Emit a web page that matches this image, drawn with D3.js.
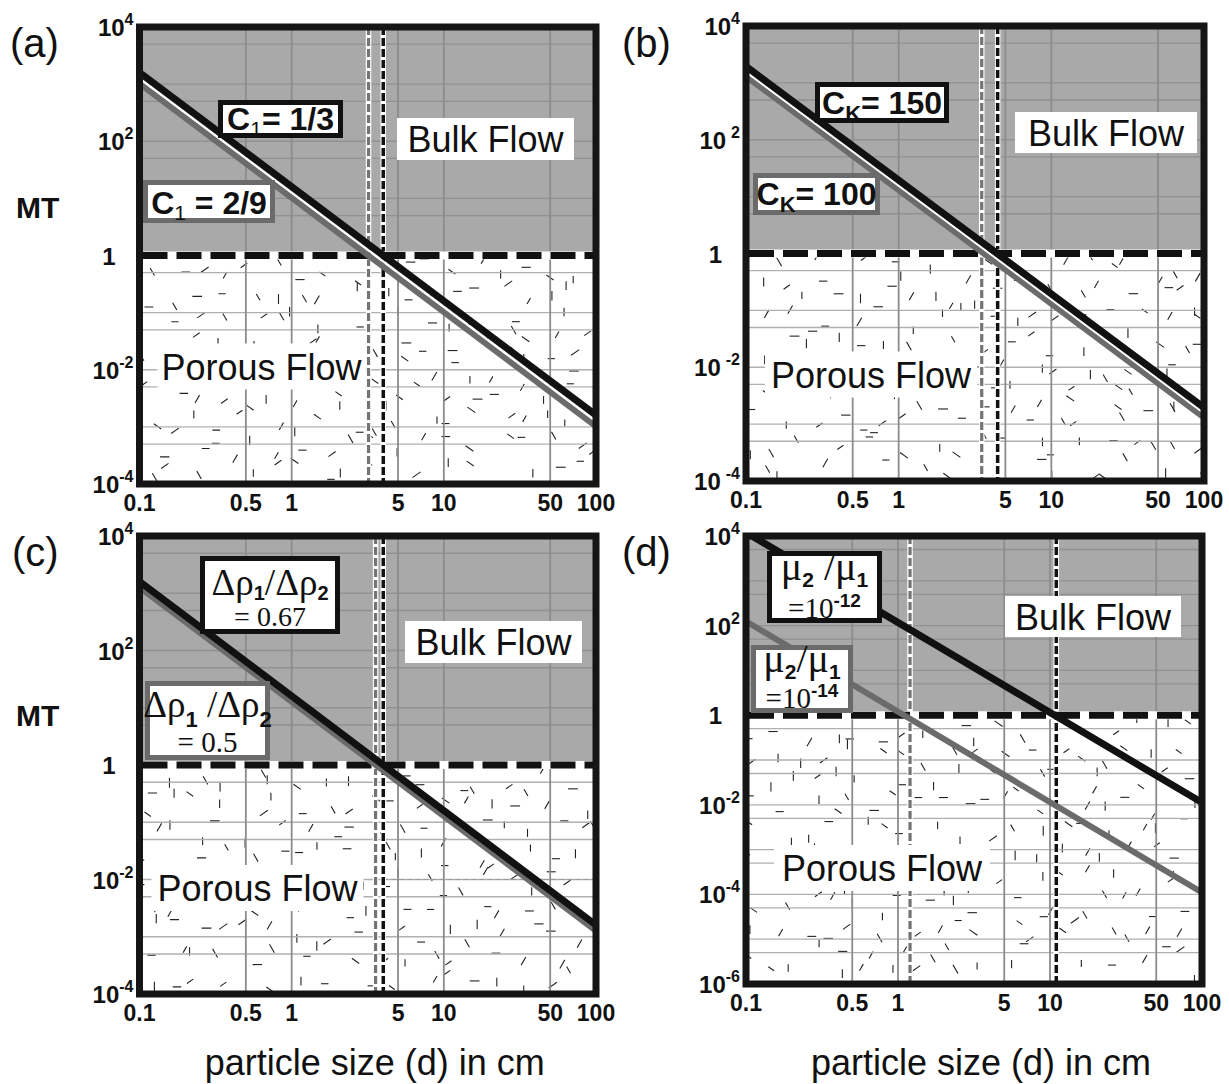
<!DOCTYPE html>
<html>
<head>
<meta charset="utf-8">
<script src="https://cdn.jsdelivr.net/npm/d3@7"></script>
<style>
  body { margin: 0; background: #fff; }
  svg { display: block; }
</style>
</head>
<body>
<div id="chart"></div>
<script>

// axis values
var xTicks = [0.1, 0.5, 1, 5, 10, 50, 100]
var xTickLabels = ["0.1", "0.5", "1", "5", "10", "50", "100"]
var xGrid = [0.5, 1, 5, 10, 50]
var yTicksABC = [1e4, 1e2, 1, 1e-2, 1e-4]
var yTicksD = [1e4, 1e2, 1, 1e-2, 1e-4, 1e-6]

// MT lines as [d, MT] end points
var aBlack = [[0.1, 1600], [100, 0.0016]]
var aGray = [[0.1, 1020], [100, 0.00102]]
var aCross = [3.2, 4.0]

var bBlack = [[0.1, 1950], [100, 0.00195]]
var bGray = [[0.1, 1300], [100, 0.0013]]
var bCross = [3.5, 4.45]

var cBlack = [[0.1, 1600], [100, 0.0016]]
var cGray = [[0.1, 1270], [100, 0.00127]]
var cCross = [3.56, 4.0]

var dBlack = [[0.1, 12000], [100, 0.0112]]
var dGray = [[0.1, 125], [100, 0.00011]]
var dCross = [1.2, 11]

var sans = "'Liberation Sans', Arial, Helvetica, sans-serif"
var serif = "'Liberation Serif', 'Times New Roman', serif"

function mulberry32(a) {
	return function() {
		a |= 0; a = a + 0x6D2B79F5 | 0
		var t = Math.imul(a ^ a >>> 15, 1 | a)
		t = t + Math.imul(t ^ t >>> 7, 61 | t) ^ t
		return ((t ^ t >>> 14) >>> 0) / 4294967296
	}
}

var svg = d3.select("#chart")
	.append("svg")
	.attr("width", 1229)
	.attr("height", 1084)
	.attr("viewBox", "0 0 1229 1084")

class Regime {

	constructor(svg, cfg) {

		this.svg = svg

		this.cfg = cfg

	}

	create() {

		var self = this

		var c = this.cfg

		var x = d3.scaleLog().domain([0.1, 100]).range([c.left, c.right])

		var y = d3.scaleLog().domain([c.yMax, c.yMin]).range([c.top, c.bottom])

		var g = self.svg.append("g")

		var y1 = y(1)

		g.append("clipPath")
			.attr("id", `clip-${c.id}`)
			.append("rect")
			.attr("x", c.left)
			.attr("y", c.top)
			.attr("width", c.right - c.left)
			.attr("height", c.bottom - c.top)

		g.append("rect")
			.attr("x", c.left)
			.attr("y", c.top)
			.attr("width", c.right - c.left)
			.attr("height", c.bottom - c.top)
			.attr("fill", "#fff")

		g.append("rect")
			.attr("x", c.left)
			.attr("y", c.top)
			.attr("width", c.right - c.left)
			.attr("height", y1 - c.top)
			.attr("fill", "#a9a9a9")

		// the scattered dash texture of the porous part

		var rng = mulberry32(c.seed)
		var angles = [0, 90, 35, -35, 60, -60, 0, 90]
		var marks = []
		var cell = 25

		for (var yy = y1 + 3; yy < c.bottom - 4; yy += cell) {
			for (var xx = c.left; xx < c.right; xx += cell) {
				var cx = xx + rng() * cell
				var cy = yy + rng() * cell
				var a = angles[Math.floor(rng() * angles.length)] * Math.PI / 180
				var len = 7 + rng() * 3
				if (cy > c.bottom - 4) continue
				marks.push([cx - Math.cos(a) * len / 2, cy - Math.sin(a) * len / 2,
					cx + Math.cos(a) * len / 2, cy + Math.sin(a) * len / 2])
			}
		}

		g.append("g")
			.attr("clip-path", `url(#clip-${c.id})`)
			.attr("stroke", "#222")
			.attr("stroke-width", 1.1)
			.selectAll("line")
			.data(marks)
			.join("line")
			.attr("x1", d => d[0])
			.attr("y1", d => d[1])
			.attr("x2", d => d[2])
			.attr("y2", d => d[3])

		// grid

		var yGrid = []
		for (var e = Math.round(Math.log10(c.yMin)); e < Math.round(Math.log10(c.yMax)); e++) {
			yGrid.push(Math.pow(10, e))
			yGrid.push(5 * Math.pow(10, e))
		}

		g.append("g")
			.attr("stroke-width", 1.3)
			.selectAll("line")
			.data(yGrid)
			.join("line")
			.attr("stroke", d => d < 1 ? "#b0b0b0" : "#919191")
			.attr("x1", c.left)
			.attr("x2", c.right)
			.attr("y1", d => y(d))
			.attr("y2", d => y(d))

		g.append("g")
			.attr("stroke", "#8c8c8c")
			.attr("stroke-width", 1.8)
			.selectAll("line")
			.data(xGrid)
			.join("line")
			.attr("x1", d => x(d))
			.attr("x2", d => x(d))
			.attr("y1", c.top)
			.attr("y2", c.bottom)

		if (c.thinDash) {
			g.append("line")
				.attr("x1", x(c.thinDash[0]))
				.attr("x2", c.right)
				.attr("y1", y(c.thinDash[1]))
				.attr("y2", y(c.thinDash[1]))
				.attr("stroke", "#999")
				.attr("stroke-width", 1)
				.style("stroke-dasharray", ("5, 3"))
		}

		// vertical dashed lines where MT = 1

		var vcol = ["#747474", "#111"]

		c.cross.forEach((d, i) => {
			g.append("line")
				.attr("x1", x(d)).attr("x2", x(d))
				.attr("y1", c.top).attr("y2", c.bottom)
				.attr("stroke", "#fff")
				.attr("stroke-width", 5.5)
			g.append("line")
				.attr("x1", x(d)).attr("x2", x(d))
				.attr("y1", c.top).attr("y2", c.bottom)
				.attr("stroke", vcol[i])
				.attr("stroke-width", i ? 3.5 : 3.2)
				.style("stroke-dasharray", ("8, 3"))
		})

		// white boxes for the two regime names

		var names = [
			{ t: "Bulk Flow", p: c.bulk },
			{ t: "Porous Flow", p: c.porous }
		]

		names.forEach(n => {
			var ng = g.append("g").attr("transform", `translate(${c.left + n.p[0]},${c.top + n.p[1]})`)
			ng.append("rect")
				.attr("x", -n.p[2] / 2)
				.attr("y", -n.p[3] / 2)
				.attr("width", n.p[2])
				.attr("height", n.p[3])
				.attr("fill", "#fff")
			ng.append("text")
				.attr("text-anchor", "middle")
				.attr("y", 13)
				.attr("font-family", sans)
				.attr("font-size", 36)
				.attr("fill", "#111")
				.text(n.t)
		})

		// the MT = 1 boundary

		g.append("line")
			.attr("x1", c.left).attr("x2", c.right)
			.attr("y1", y1).attr("y2", y1)
			.attr("stroke", "#fff")
			.attr("stroke-width", 8)

		g.append("line")
			.attr("x1", c.left + 3).attr("x2", c.right)
			.attr("y1", y1).attr("y2", y1)
			.attr("stroke", "#111")
			.attr("stroke-width", 7)
			.style("stroke-dasharray", ("25, 9"))

		// MT lines

		var line = d3.line().x(d => x(d[0])).y(d => y(d[1]))

		var lg = g.append("g").attr("clip-path", `url(#clip-${c.id})`).attr("fill", "none")

		lg.append("path")
			.attr("d", line(c.gray))
			.attr("stroke", "#6b6b6b")
			.attr("stroke-width", 6)

		if (c.halo) {
			lg.append("path")
				.attr("d", line(c.black))
				.attr("transform", `translate(0,${c.halo})`)
				.attr("stroke", "#fff")
				.attr("stroke-width", 2.2)
		}

		lg.append("path")
			.attr("d", line(c.black))
			.attr("stroke", "#111")
			.attr("stroke-width", 7)

		// labelled boxes

		c.boxes.forEach(b => {
			var bg = g.append("g").attr("transform", `translate(${c.left + b.p[0]},${c.top + b.p[1]})`)
			bg.append("rect")
				.attr("x", -b.p[2] / 2 + b.sw / 2)
				.attr("y", -b.p[3] / 2 + b.sw / 2)
				.attr("width", b.p[2] - b.sw)
				.attr("height", b.p[3] - b.sw)
				.attr("fill", "#fff")
				.attr("stroke", b.stroke)
				.attr("stroke-width", b.sw)
			b.lines.forEach(ln => {
				var t = bg.append("text")
					.attr("text-anchor", "middle")
					.attr("y", ln.y)
					.attr("fill", "#111")
				var shift = 0
				ln.segs.forEach(s => {
					var dy = (s.dy || 0) - shift
					shift = s.dy || 0
					t.append("tspan")
						.attr("dy", dy)
						.attr("font-family", s.f || sans)
						.attr("font-size", s.s)
						.attr("font-weight", s.w || 400)
						.text(s.t)
				})
			})
		})

		// frame

		g.append("rect")
			.attr("x", c.left)
			.attr("y", c.top)
			.attr("width", c.right - c.left)
			.attr("height", c.bottom - c.top)
			.attr("fill", "none")
			.attr("stroke", "#151515")
			.attr("stroke-width", 7)

		// tick labels

		g.append("g")
			.attr("font-family", sans)
			.attr("font-size", 23)
			.attr("font-weight", 700)
			.attr("text-anchor", "middle")
			.attr("fill", "#111")
			.selectAll("text")
			.data(xTicks)
			.join("text")
			.attr("x", d => x(d))
			.attr("y", c.bottom + 27)
			.text((d, i) => xTickLabels[i])

		var yl = g.append("g")
			.attr("font-family", sans)
			.attr("font-weight", 700)
			.attr("text-anchor", "end")
			.attr("fill", "#111")
			.selectAll("text")
			.data(c.yTicks)
			.join("text")
			.attr("x", d => d === 1 ? c.left - 24 : c.left - 6)
			.attr("y", d => y(d) + 9)
			.attr("font-size", 24)

		yl.each(function(d) {
			var t = d3.select(this)
			var ex = Math.round(Math.log10(d))
			if (ex === 0) {
				t.text("1")
			} else {
				t.append("tspan").text("10")
				t.append("tspan")
					.attr("dy", -11)
					.attr("dx", d === c.yMax ? 0 : c.gap)
					.attr("font-size", 16)
					.text(ex < 0 ? "-" + (-ex) : ex)
			}
		})

		svg.append("text")
			.attr("x", c.tag[0])
			.attr("y", c.tag[1])
			.attr("font-family", sans)
			.attr("font-size", 40)
			.attr("fill", "#111")
			.text(`(${c.id})`)

		if (c.mt) {
			svg.append("text")
				.attr("x", 16)
				.attr("y", c.mt)
				.attr("font-family", sans)
				.attr("font-size", 30)
				.attr("font-weight", 700)
				.attr("fill", "#111")
				.text("MT")
		}

		if (c.title) {
			svg.append("text")
				.attr("x", (c.left + c.right) / 2 + 7)
				.attr("y", 1075)
				.attr("text-anchor", "middle")
				.attr("font-family", sans)
				.attr("font-size", 36)
				.attr("fill", "#111")
				.text("particle size (d) in cm")
		}

	}

}

var sub = 6

new Regime(svg, {
	id: "a", seed: 11, left: 139.5, right: 596, top: 27, bottom: 484,
	yMin: 1e-4, yMax: 1e4, yTicks: yTicksABC, gap: 0,
	black: aBlack, gray: aGray, cross: aCross, halo: 6,
	tag: [10, 57], mt: 218,
	bulk: [346, 112, 177, 42], porous: [122, 339.5, 208, 46],
	boxes: [
		{ p: [141, 92, 125, 38], stroke: "#111", sw: 5, lines: [{ y: 11, segs: [
			{ t: "C", s: 32, w: 700 }, { t: "1", s: 21, dy: sub }, { t: "= 1/3", s: 32, w: 700 }] }] },
		{ p: [69.5, 174.5, 132, 43], stroke: "#6b6b6b", sw: 5, lines: [{ y: 12, segs: [
			{ t: "C", s: 32, w: 700 }, { t: "1", s: 21, dy: sub }, { t: " = 2/9", s: 32, w: 700 }] }] }
	]
}).create()

new Regime(svg, {
	id: "b", seed: 23, left: 746, right: 1204, top: 26, bottom: 481,
	yMin: 1e-4, yMax: 1e4, yTicks: yTicksABC, gap: 5,
	black: bBlack, gray: bGray, cross: bCross, halo: 5.5,
	tag: [622, 57],
	bulk: [360, 106.5, 182, 41], porous: [125, 348.5, 212, 46],
	boxes: [
		{ p: [136, 76.5, 134, 41], stroke: "#111", sw: 5, lines: [{ y: 11, segs: [
			{ t: "C", s: 32, w: 700 }, { t: "K", s: 22, w: 700, dy: 7 }, { t: "= 150", s: 32, w: 700 }] }] },
		{ p: [70.5, 168, 127, 42], stroke: "#6b6b6b", sw: 5, lines: [{ y: 11, segs: [
			{ t: "C", s: 32, w: 700 }, { t: "K", s: 22, w: 700, dy: 7 }, { t: "= 100", s: 32, w: 700 }] }] }
	]
}).create()

new Regime(svg, {
	id: "c", seed: 37, left: 139.5, right: 596, top: 536, bottom: 994,
	yMin: 1e-4, yMax: 1e4, yTicks: yTicksABC, gap: 0,
	black: cBlack, gray: cGray, cross: cCross, halo: 0,
	thinDash: [cCross[1], 1e-2],
	tag: [12, 566], mt: 726, title: true,
	bulk: [354, 106, 177, 42], porous: [118, 352, 212, 46],
	boxes: [
		{ p: [130.5, 59, 140, 78], stroke: "#111", sw: 5, lines: [
			{ y: 0, segs: [{ t: "Δρ", f: serif, s: 37 }, { t: "1", s: 20, w: 700, dy: 5 },
				{ t: "/Δρ", f: serif, s: 37 }, { t: "2", s: 20, w: 700, dy: 5 }] },
			{ y: 31, segs: [{ t: "= 0.67", f: serif, s: 28 }] }] },
		{ p: [68, 184.5, 125, 79], stroke: "#6b6b6b", sw: 5, lines: [
			{ y: -4, segs: [{ t: "Δρ", f: serif, s: 37 }, { t: "1", s: 22, w: 700, dy: 10 },
				{ t: " /Δρ", f: serif, s: 37 }, { t: "2", s: 22, w: 700, dy: 10 }] },
			{ y: 31, segs: [{ t: "= 0.5", f: serif, s: 29 }] }] }
	]
}).create()

new Regime(svg, {
	id: "d", seed: 53, left: 746, right: 1202, top: 536, bottom: 984,
	yMin: 1e-6, yMax: 1e4, yTicks: yTicksD, gap: 0,
	black: dBlack, gray: dGray, cross: dCross, halo: 0,
	tag: [622, 566], title: true,
	bulk: [347, 80.5, 176, 41], porous: [136, 332, 216, 46],
	boxes: [
		{ p: [78.5, 51, 115, 72], stroke: "#111", sw: 5, lines: [
			{ y: -7, segs: [{ t: "μ", f: serif, s: 40 }, { t: "2", s: 21, w: 700, dy: 7 },
				{ t: " /μ", f: serif, s: 40 }, { t: "1", s: 21, w: 700, dy: 7 }] },
			{ y: 31, segs: [{ t: "=10", f: serif, s: 29 }, { t: "-12", s: 19, w: 700, dy: -11 }] }] },
		{ p: [56, 143, 102, 68], stroke: "#6b6b6b", sw: 5, lines: [
			{ y: -7, segs: [{ t: "μ", f: serif, s: 40 }, { t: "2", s: 21, w: 700, dy: 7 },
				{ t: "/μ", f: serif, s: 40 }, { t: "1", s: 21, w: 700, dy: 7 }] },
			{ y: 29, segs: [{ t: "=10", f: serif, s: 29 }, { t: "-14", s: 19, w: 700, dy: -11 }] }] }
	]
}).create()

</script>
</body>
</html>
